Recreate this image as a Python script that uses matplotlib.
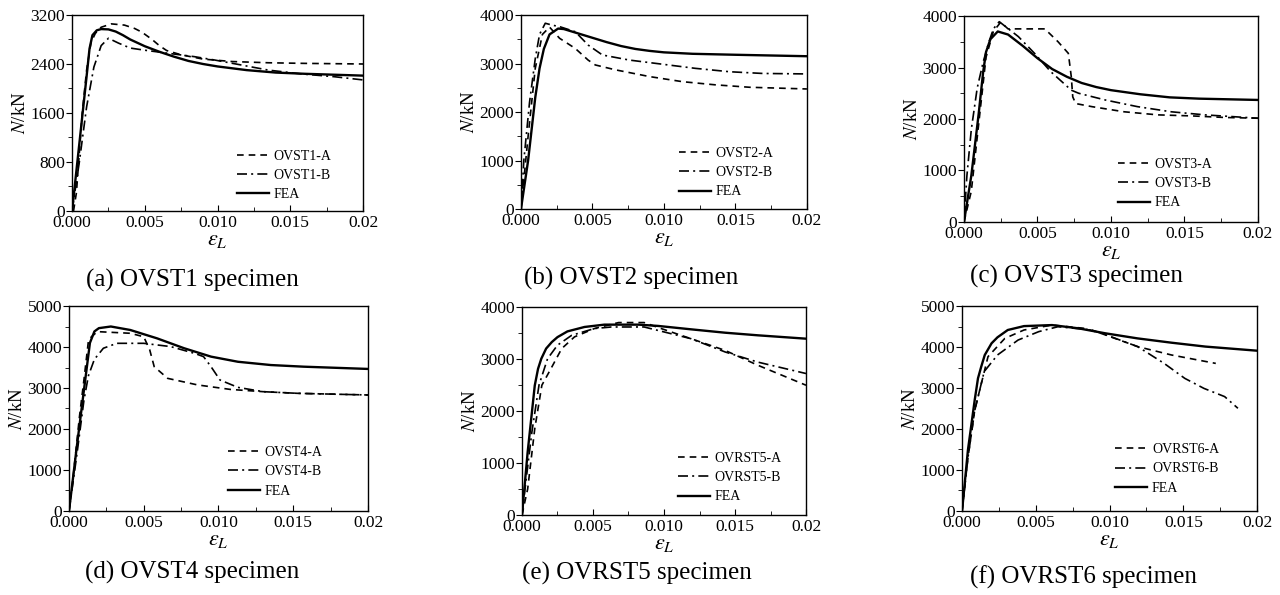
import numpy as np
import matplotlib
matplotlib.use("Agg")
import matplotlib.pyplot as plt
from matplotlib.ticker import MultipleLocator

plt.rcParams['font.family'] = ['Liberation Serif', 'DejaVu Serif']
plt.rcParams['mathtext.fontset'] = 'stix'

# ---- data (strain, load in kN) ----
# (a) OVST1
a_fea_x = [0, 0.0005, 0.001, 0.0012, 0.0014, 0.0017, 0.002, 0.0025, 0.003, 0.0035, 0.004, 0.005,
           0.006, 0.007, 0.008, 0.009, 0.010, 0.012, 0.014, 0.016, 0.018, 0.020]
a_fea_y = [0, 1100, 2200, 2650, 2870, 2950, 2970, 2965, 2930, 2870, 2800, 2690,
           2600, 2520, 2450, 2400, 2360, 2300, 2260, 2240, 2225, 2210]
a_A_x = [0.0001, 0.0003, 0.0007, 0.001, 0.0013, 0.0016, 0.002, 0.0027, 0.0036, 0.0043, 0.0048,
         0.0055, 0.006, 0.0065, 0.0075, 0.009, 0.011, 0.0135, 0.016, 0.020]
a_A_y = [0, 300, 1600, 2300, 2750, 2900, 3000, 3055, 3035, 2980, 2920,
         2800, 2700, 2620, 2550, 2480, 2440, 2420, 2410, 2400]
a_B_x = [0, 0.0005, 0.001, 0.0015, 0.002, 0.0025, 0.0032, 0.004, 0.005, 0.0066, 0.0084,
         0.0098, 0.0116, 0.0135, 0.0158, 0.018, 0.020]
a_B_y = [0, 800, 1700, 2350, 2700, 2820, 2740, 2660, 2625, 2575, 2520,
         2465, 2385, 2300, 2237, 2193, 2140]

# (b) OVST2
b_fea_x = [0, 0.0005, 0.001, 0.0013, 0.0016, 0.002, 0.0026, 0.003, 0.004, 0.005, 0.006, 0.007,
           0.008, 0.009, 0.010, 0.012, 0.015, 0.020]
b_fea_y = [0, 1000, 2300, 2900, 3300, 3600, 3720, 3710, 3620, 3530, 3440, 3360,
           3300, 3260, 3230, 3200, 3180, 3150]
b_A_x = [0, 0.0005, 0.001, 0.0015, 0.002, 0.0027, 0.0038, 0.0047, 0.0052, 0.0066, 0.009,
         0.0113, 0.0136, 0.016, 0.020]
b_A_y = [0, 1500, 2900, 3600, 3750, 3520, 3310, 3070, 2970, 2870, 2730,
         2625, 2560, 2510, 2475]
b_B_x = [0, 0.0002, 0.0006, 0.001, 0.0013, 0.0017, 0.0022, 0.0027, 0.0038, 0.0047, 0.0057,
         0.0076, 0.0099, 0.0122, 0.0146, 0.0169, 0.020]
b_B_y = [0, 1000, 2200, 3100, 3600, 3830, 3790, 3760, 3655, 3380, 3175,
         3070, 2985, 2900, 2830, 2795, 2785]

# (c) OVST3
c_fea_x = [0, 0.0005, 0.001, 0.0013, 0.0015, 0.0018, 0.0023, 0.003, 0.004, 0.005, 0.006, 0.007,
           0.008, 0.009, 0.010, 0.012, 0.014, 0.016, 0.020]
c_fea_y = [0, 900, 2100, 2900, 3300, 3550, 3700, 3640, 3420, 3180, 2970, 2820,
           2700, 2620, 2560, 2480, 2420, 2395, 2370]
c_A_x = [0, 0.0005, 0.001, 0.0015, 0.002, 0.0025, 0.003, 0.0055, 0.0064, 0.0071, 0.0073,
         0.0074, 0.0076, 0.0087, 0.0109, 0.0132, 0.0155, 0.0177, 0.020]
c_A_y = [0, 600, 1900, 3200, 3700, 3880, 3750, 3750, 3500, 3275, 2820,
         2430, 2300, 2240, 2140, 2080, 2060, 2030, 2015]
c_B_x = [0, 0.0002, 0.0005, 0.0009, 0.0013, 0.0017, 0.002, 0.0024, 0.0037, 0.0048, 0.0059,
         0.0073, 0.0078, 0.0096, 0.0118, 0.0141, 0.0164, 0.020]
c_B_y = [0, 900, 1800, 2600, 3100, 3500, 3750, 3890, 3600, 3275, 2920,
         2560, 2500, 2370, 2240, 2140, 2080, 2015]

# (d) OVST4
d_fea_x = [0, 0.0005, 0.001, 0.0014, 0.0017, 0.002, 0.0028, 0.0041, 0.0059, 0.0077, 0.0095,
           0.0113, 0.0135, 0.0157, 0.020]
d_fea_y = [0, 1500, 2950, 4100, 4380, 4460, 4500, 4415, 4210, 3970, 3765,
           3640, 3560, 3520, 3465]
d_A_x = [0, 0.0003, 0.0007, 0.001, 0.0013, 0.0015, 0.0019, 0.0041, 0.005, 0.0054, 0.0057,
         0.0066, 0.0086, 0.0108, 0.013, 0.0153, 0.020]
d_A_y = [0, 900, 2300, 3200, 4150, 4250, 4375, 4335, 4250, 3930, 3520,
         3235, 3075, 2965, 2910, 2870, 2830]
d_B_x = [0, 0.0005, 0.001, 0.0013, 0.0017, 0.0023, 0.0032, 0.005, 0.0068, 0.0084, 0.009,
         0.0095, 0.0101, 0.0113, 0.013, 0.0153, 0.020]
d_B_y = [0, 1300, 2700, 3300, 3700, 3970, 4090, 4090, 4010, 3845, 3765,
         3520, 3195, 3015, 2910, 2870, 2830]

# (e) OVRST5
e_fea_x = [0, 0.0004, 0.0009, 0.00113, 0.00136, 0.0017, 0.0021, 0.0025, 0.0032, 0.0044, 0.0058,
           0.0082, 0.0096, 0.0119, 0.0143, 0.0166, 0.020]
e_fea_y = [0, 1210, 2490, 2810, 3005, 3200, 3325, 3420, 3530, 3615, 3660,
           3660, 3635, 3570, 3505, 3455, 3390]
e_A_x = [0, 0.0004, 0.0009, 0.0014, 0.0021, 0.0028, 0.0037, 0.0051, 0.0068, 0.0086, 0.0098,
         0.0119, 0.0143, 0.0166, 0.020]
e_A_y = [0, 500, 1660, 2495, 2845, 3200, 3425, 3585, 3700, 3700, 3585,
         3390, 3165, 2880, 2495]
e_B_x = [0, 0.0003, 0.0007, 0.0012, 0.0018, 0.0025, 0.0035, 0.0051, 0.0063, 0.0086, 0.010,
         0.0119, 0.0143, 0.0166, 0.020]
e_B_y = [0, 700, 1600, 2500, 3005, 3265, 3455, 3585, 3615, 3615, 3520,
         3390, 3135, 2940, 2720]

# (f) OVRST6
f_fea_x = [0, 0.0004, 0.00086, 0.00108, 0.0013, 0.00154, 0.002, 0.0024, 0.0031, 0.0042, 0.0061,
           0.0079, 0.0097, 0.0119, 0.0142, 0.0165, 0.020]
f_fea_y = [0, 1490, 2710, 3236, 3520, 3805, 4090, 4236, 4415, 4510, 4535,
           4455, 4335, 4210, 4105, 4010, 3910]
f_A_x = [0, 0.0004, 0.00086, 0.00176, 0.0029, 0.0042, 0.0061, 0.0083, 0.0094, 0.0119, 0.0142,
         0.0172]
f_A_y = [0, 1300, 2460, 3765, 4210, 4415, 4535, 4455, 4335, 4010, 3805,
         3600]
f_B_x = [0, 0.0004, 0.00086, 0.0015, 0.0024, 0.0038, 0.0052, 0.0065, 0.0088, 0.0101, 0.0119,
         0.0137, 0.0151, 0.0164, 0.0178, 0.0187]
f_B_y = [0, 1300, 2450, 3400, 3805, 4170, 4375, 4495, 4415, 4250, 4010,
         3600, 3235, 2990, 2790, 2505]

panels = [
    dict(pos=[0.0563, 0.6454, 0.2273, 0.3294], ymax=3200, ystep=800,
         fea=(a_fea_x, a_fea_y), A=(a_A_x, a_A_y), B=(a_B_x, a_B_y),
         names=('OVST1-A', 'OVST1-B'), cap='(a) OVST1 specimen', cxy=(192, 280),
         leg=(0.567, 0.312)),
    dict(pos=[0.4070, 0.6487, 0.2234, 0.3261], ymax=4000, ystep=1000,
         fea=(b_fea_x, b_fea_y), A=(b_A_x, b_A_y), B=(b_B_x, b_B_y),
         names=('OVST2-A', 'OVST2-B'), cap='(b) OVST2 specimen', cxy=(631, 278),
         leg=(0.552, 0.320)),
    dict(pos=[0.7531, 0.6269, 0.2297, 0.3462], ymax=4000, ystep=1000,
         fea=(c_fea_x, c_fea_y), A=(c_A_x, c_A_y), B=(c_B_x, c_B_y),
         names=('OVST3-A', 'OVST3-B'), cap='(c) OVST3 specimen', cxy=(1076, 276),
         leg=(0.524, 0.311)),
    dict(pos=[0.0539, 0.1412, 0.2336, 0.3445], ymax=5000, ystep=1000,
         fea=(d_fea_x, d_fea_y), A=(d_A_x, d_A_y), B=(d_B_x, d_B_y),
         names=('OVST4-A', 'OVST4-B'), cap='(d) OVST4 specimen', cxy=(192, 572),
         leg=(0.532, 0.317)),
    dict(pos=[0.4078, 0.1345, 0.2219, 0.3496], ymax=4000, ystep=1000,
         fea=(e_fea_x, e_fea_y), A=(e_A_x, e_A_y), B=(e_B_x, e_B_y),
         names=('OVRST5-A', 'OVRST5-B'), cap='(e) OVRST5 specimen', cxy=(637, 573),
         leg=(0.549, 0.303)),
    dict(pos=[0.7516, 0.1412, 0.2305, 0.3445], ymax=5000, ystep=1000,
         fea=(f_fea_x, f_fea_y), A=(f_A_x, f_A_y), B=(f_B_x, f_B_y),
         names=('OVRST6-A', 'OVRST6-B'), cap='(f) OVRST6 specimen', cxy=(1083, 577),
         leg=(0.519, 0.331)),
]

W, H = 1280, 595
fig = plt.figure(figsize=(W / 100, H / 100), dpi=100)

for p in panels:
    ax = fig.add_axes(p['pos'])
    ax.plot(*p['A'], color='black', lw=1.2, ls=(0, (4, 3)), label=p['names'][0])
    ax.plot(*p['B'], color='black', lw=1.2, ls=(0, (6, 2.5, 1.2, 2.5)), label=p['names'][1])
    ax.plot(*p['fea'], color='black', lw=1.7, ls='-', label='FEA')

    ax.set_xlim(0, 0.02)
    ax.set_ylim(0, p['ymax'])
    ax.set_xticks([0, 0.005, 0.01, 0.015, 0.02])
    ax.set_xticklabels(['0.000', '0.005', '0.010', '0.015', '0.02'])
    ax.xaxis.set_minor_locator(MultipleLocator(0.0025))
    ax.yaxis.set_major_locator(MultipleLocator(p['ystep']))
    ax.yaxis.set_minor_locator(MultipleLocator(p['ystep'] / 2))
    ax.tick_params(axis='x', which='both', direction='in', labelsize=12.5, pad=3)
    ax.tick_params(axis='x', which='major', length=4)
    ax.tick_params(axis='x', which='minor', length=3)
    ax.tick_params(axis='y', which='both', direction='out', labelsize=12.5, pad=1)
    ax.tick_params(axis='y', which='major', length=4)
    ax.tick_params(axis='y', which='minor', length=3)
    for s in ax.spines.values():
        s.set_linewidth(1.0)

    ax.set_ylabel(r'$N$/kN', fontsize=13.5, labelpad=1)
    ax.set_xlabel(r'$\varepsilon_L$', fontsize=16, labelpad=0)

    ax.legend(loc='upper left', bbox_to_anchor=p['leg'], frameon=False, fontsize=10,
              handlelength=2.3, handletextpad=0.35, labelspacing=0.45, borderpad=0,
              borderaxespad=0)

    fig.text(p['cxy'][0] / W, 1 - p['cxy'][1] / H, p['cap'], fontsize=18,
             ha='center', va='center')

fig.savefig('out.png', dpi=100)
